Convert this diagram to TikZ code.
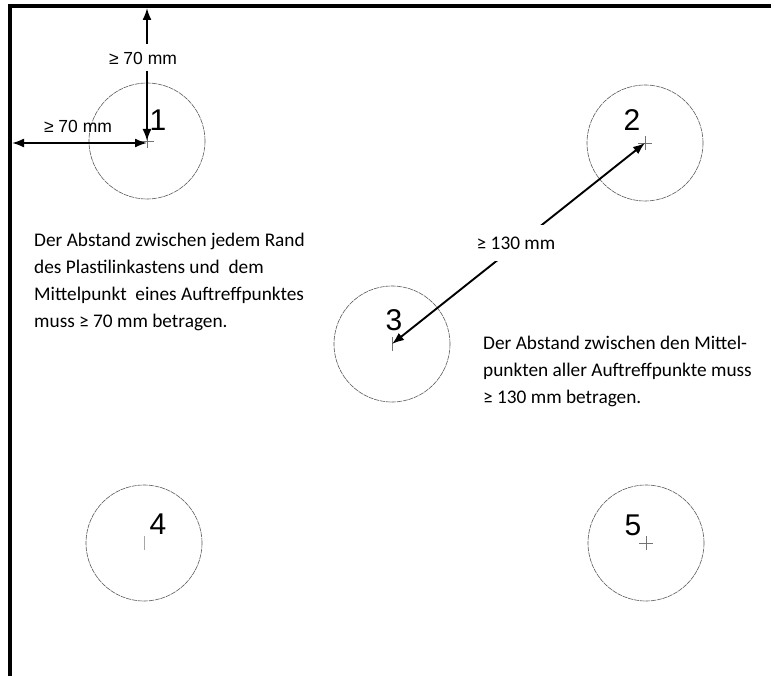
\documentclass[tikz,border=0pt]{standalone}
\usepackage{fontspec}
\setmainfont{Carlito}
\newfontfamily\numfont{Liberation Sans}
\usetikzlibrary{arrows.meta}
\tikzset{
  impact/.style={circle, draw=black!65, line width=0.6pt, dash pattern=on 5pt off 0.8pt, minimum size=116pt, inner sep=0pt},
  dim/.style={{Latex[length=12pt,width=9pt]}-{Latex[length=12pt,width=9pt]}, line width=1.9pt},
  cross/.style={draw=black!55, line width=0.6pt},
  numlabel/.style={font=\numfont\fontsize{30}{30}\selectfont, inner sep=0pt},
  dimlabel/.style={font=\numfont\fontsize{17.5}{17.5}\selectfont, fill=white, inner sep=0pt},
  note/.style={font=\fontsize{19.3}{27}\selectfont, align=left, anchor=north west, inner sep=0pt}
}
\begin{document}
\begin{tikzpicture}[x=1pt,y=-1pt]
\useasboundingbox (0,0) rectangle (771,676);
\draw[line width=4pt] (10,676) -- (10,6) -- (771,6);
% impact circles
\node[impact] (c1) at (147,141) {};
\node[impact] (c2) at (645,143) {};
\node[impact] (c3) at (392,344) {};
\node[impact] (c4) at (144,543) {};
\node[impact] (c5) at (646,543) {};
% crosses
\draw[cross] ([xshift=-7pt]c1.center) -- ([xshift=7pt]c1.center) ([yshift=-7pt]c1.center) -- ([yshift=7pt]c1.center);
\draw[cross] ([xshift=-7pt]c2.center) -- ([xshift=7pt]c2.center) ([yshift=-7pt]c2.center) -- ([yshift=7pt]c2.center);
\draw[cross] ([yshift=-7pt]c3.center) -- ([yshift=7pt]c3.center);
\draw[cross, draw=black!35] ([yshift=-7pt]c4.center) -- ([yshift=7pt]c4.center);
\draw[cross] ([xshift=-7pt]c5.center) -- ([xshift=7pt]c5.center) ([yshift=-7pt]c5.center) -- ([yshift=7pt]c5.center);
% numbers
\node[numlabel] (n1) at (158,120) {1};
\node[numlabel] (n2) at (632,120) {2};
\node[numlabel] (n3) at (394,320) {3};
\node[numlabel] (n4) at (158,524) {4};
\node[numlabel] (n5) at (633,525) {5};
% dimension arrows
\coordinate (top) at (147,8);
\coordinate (left) at (12,143);
\coordinate (c1h) at (147,143);
\draw[dim] (top) -- (c1.center);
\draw[dim] (left) -- (c1h);
\draw[dim] (c2.center) -- (c3.center);
\node[dimlabel, minimum height=27pt] (d1) at (143,58) {≥ 70 mm};
\node[dimlabel, fill=none] (d2) at (78,126) {≥ 70 mm};
\node[dimlabel, font=\fontsize{19.3}{19.3}\selectfont, minimum height=36pt] (d3) at (516,243) {≥ 130 mm};
% notes
\node[note] (t1) at (34,233) {Der Abstand zwischen jedem Rand\\des Plastilinkastens und\ \ dem\\Mittelpunkt\ \ eines Auftreffpunktes\\muss ≥ 70 mm betragen.};
\node[note] (t2) at (483,336) {Der Abstand zwischen den Mittel-\\punkten aller Auftreffpunkte muss\\≥ 130 mm betragen.};
\end{tikzpicture}
\end{document}
